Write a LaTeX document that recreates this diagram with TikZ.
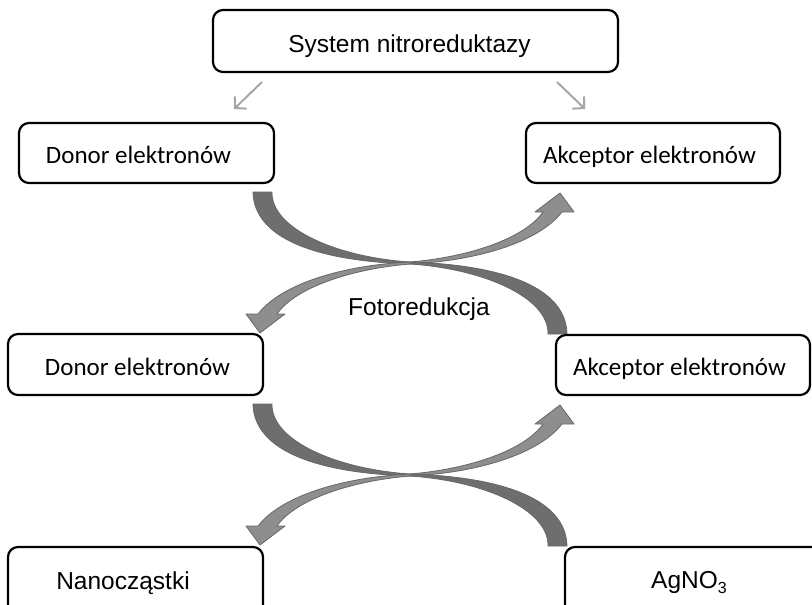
\documentclass[tikz,border=0pt]{standalone}
\usepackage{fontspec}
\setmainfont{Carlito}
\newfontfamily\arialf{Liberation Sans}
\usetikzlibrary{arrows.meta}
\definecolor{darkarr}{HTML}{6E6E6E}
\definecolor{lightarr}{HTML}{8E8E8E}
\definecolor{arredge}{HTML}{676767}
\definecolor{thinarr}{HTML}{A6A6A6}
\newcommand\myCurvedArrow{%
  \filldraw[darkpart] (-157,-71) .. controls (-156,-25) and (-95,-2) .. (0,1) -- (0,-1) .. controls (-75,-6) and (-139,-35) .. (-138,-71) -- cycle;
  \filldraw[lightpart] (0,-1) .. controls (60,-6) and (115,-25) .. (133,-51) -- (125,-51) -- (150,-70) -- (164,-51) -- (152,-51) .. controls (128,-20) and (65,-2) .. (0,1) -- cycle;}
\begin{document}
\begin{tikzpicture}[x=1pt,y=-1pt,
  box/.style={draw=black, line width=2.2pt, rounded corners=10pt, inner sep=0pt},
  txt/.style={anchor=base, inner sep=0pt, font=\fontsize{25}{30}\selectfont},
  atxt/.style={anchor=base, inner sep=0pt, font=\arialf\fontsize{24.5}{29}\selectfont},
  darkpart/.style={fill=darkarr, draw=arredge, line width=0.8pt, line join=round},
  lightpart/.style={fill=lightarr, draw=arredge, line width=0.8pt, line join=round},
  thin/.style={draw=thinarr, line width=2pt, -{Straight Barb[length=8pt,width=17pt,line width=2pt]}}]
\useasboundingbox (0,0) rectangle (812,605);
\clip (0,0) rectangle (812,605);
% curved arrows
\begin{scope}[shift={(410,263)}]
  \myCurvedArrow
  \begin{scope}[rotate=180]\myCurvedArrow\end{scope}
\end{scope}
\begin{scope}[shift={(410,475)}]
  \myCurvedArrow
  \begin{scope}[rotate=180]\myCurvedArrow\end{scope}
\end{scope}
% boxes
\node[box, minimum width=405pt, minimum height=62pt] (top) at (415.5,41) {};
\node[box, minimum width=255pt, minimum height=60pt] (d1) at (146.5,153) {};
\node[box, minimum width=254pt, minimum height=60pt] (a1) at (653,153) {};
\node[box, minimum width=255pt, minimum height=61pt] (d2) at (135.5,364.5) {};
\node[box, minimum width=254pt, minimum height=60pt] (a2) at (683,365) {};
\node[box, minimum width=255pt, minimum height=80pt] (nano) at (135.5,587) {};
\node[box, minimum width=265pt, minimum height=80pt] (ag) at (697.5,587) {};
% texts
\node[atxt] (toptxt) at (409.5,52) {System nitroreduktazy};
\node[txt] (d1txt) at (138.5,163) {Donor elektronów};
\node[txt] (a1txt) at (649.5,163) {Akceptor elektronów};
\node[atxt] (foto) at (419,315) {Fotoredukcja};
\node[txt] (d2txt) at (137.5,375) {Donor elektronów};
\node[txt] (a2txt) at (679.5,375) {Akceptor elektronów};
\node[atxt] (nanotxt) at (123,589) {Nanocząstki};
\node[atxt] (agtxt) at (689,588) {AgNO\raisebox{-5pt}{\fontsize{16}{16}\selectfont 3}};
% thin arrows
\coordinate (l1) at (262,82);
\coordinate (l2) at (234,109);
\coordinate (r1) at (557,82);
\coordinate (r2) at (585,109);
\draw[thin] (l1) -- (l2);
\draw[thin] (r1) -- (r2);
\end{tikzpicture}
\end{document}
